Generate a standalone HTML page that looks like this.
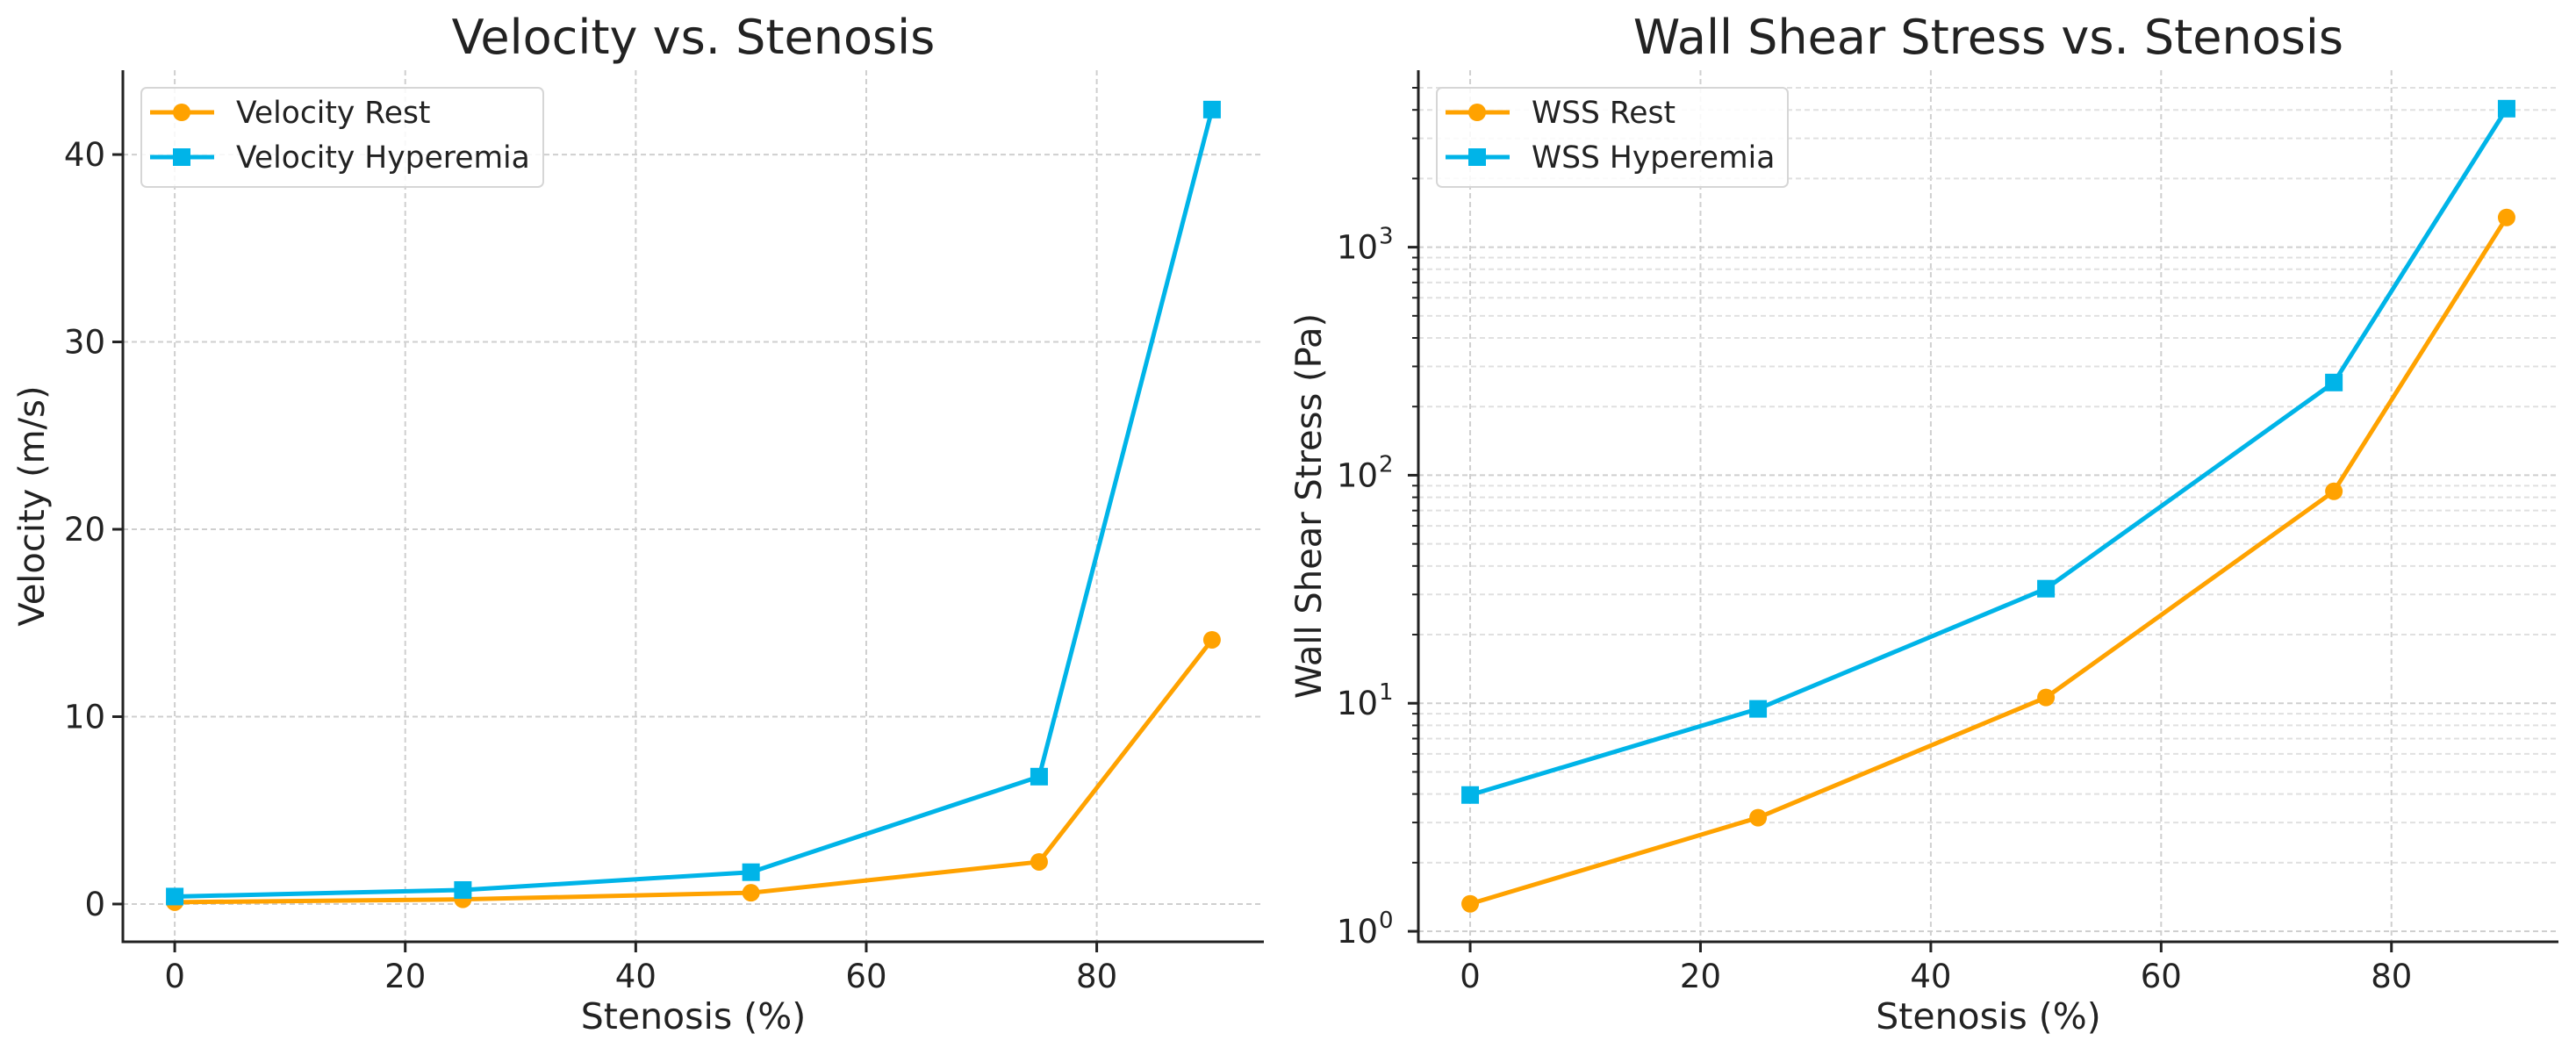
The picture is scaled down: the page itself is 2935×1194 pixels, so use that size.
<!DOCTYPE html>
<html><head><meta charset="utf-8"><style>
html,body{margin:0;padding:0;background:#fff;}
svg{display:block;font-family:"DejaVu Sans","Liberation Sans",sans-serif;}
</style></head><body>
<svg id="fig" width="2935" height="1194" viewBox="0 0 2935 1194" xmlns="http://www.w3.org/2000/svg"></svg>
<script>
const stenosis = [0, 25, 50, 75, 90];
const velRest = [0.1, 0.25, 0.6, 2.25, 14.1];
const velHyper = [0.4, 0.75, 1.7, 6.8, 42.4];
const wssRest = [1.32, 3.15, 10.6, 85, 1350];
const wssHyper = [3.96, 9.45, 31.8, 255, 4050];
const xTicks = [0, 20, 40, 60, 80];
const velTicks = [0, 10, 20, 30, 40];
const logTicks = [0, 1, 2, 3];

const NS = "http://www.w3.org/2000/svg";
const svg = document.getElementById('fig');
const ORANGE = "#ffa200", BLUE = "#00b4e8";
function mk(tag, attrs, parent) {
  const e = document.createElementNS(NS, tag);
  for (const k in attrs) e.setAttribute(k, attrs[k]);
  (parent || svg).appendChild(e);
  return e;
}

function panel(opt) {
  const g = mk('g', {});
  
  
  const L = opt.left, R = opt.right, T = 80, B = 1073;
  const xmin = -4.5, xmax = 94.5;
  const xs = v => L + (v - xmin) / (xmax - xmin) * (R - L);
  const ys = opt.ys(T, B);
  const grid = mk('g', {stroke: "#cfcfcf", "stroke-width": 2, "stroke-dasharray": "6,4", fill: "none"}, g);
  
  
  xTicks.forEach(t => mk('line', {x1: xs(t), x2: xs(t), y1: T, y2: B}, grid));
  opt.gridY(ys).forEach(y => mk('line', {x1: L, x2: R, y1: y.y, y2: y.y, stroke: y.minor ? "#e0e0e0" : "#cfcfcf"}, grid));
  const ax = mk('g', {stroke: "#222", "stroke-width": 3}, g);
  
  
  mk('line', {x1: L, x2: L, y1: T, y2: B + 1.5}, ax);
  mk('line', {x1: L - 1.5, x2: R, y1: B, y2: B}, ax);
  xTicks.forEach(t => {
    mk('line', {x1: xs(t), x2: xs(t), y1: B, y2: B + 12, stroke: "#222", "stroke-width": 3}, g);
    const tx = mk('text', {x: xs(t), y: B + 52, "text-anchor": "middle", "font-size": 37, fill: "#222"}, g);
    tx.textContent = t;
    
    
  });
  opt.yTicks(ys, g, L);
  [[opt.rest, ORANGE, 'circle', opt.restName], [opt.hyper, BLUE, 'square', opt.hyperName]].forEach(([vals, col, mkr, nm]) => {
    const sg = mk('g', {}, g);
    
    
    const pts = stenosis.map((s, i) => xs(s) + ',' + ys(vals[i])).join(' ');
    mk('polyline', {points: pts, fill: "none", stroke: col, "stroke-width": 5, "stroke-linejoin": "round"}, sg);
    stenosis.forEach((s, i) => {
      let m;
      if (mkr === 'circle') m = mk('circle', {cx: xs(s), cy: ys(vals[i]), r: 10, fill: col}, sg);
      else m = mk('rect', {x: xs(s) - 10, y: ys(vals[i]) - 10, width: 20, height: 20, fill: col}, sg);
      
      
    });
  });
  const ti = mk('text', {x: (L + R) / 2, y: 61, "text-anchor": "middle", "font-size": 54, fill: "#222"}, g);
  ti.textContent = opt.title;
  
  
  const xl = mk('text', {x: (L + R) / 2, y: 1172, "text-anchor": "middle", "font-size": 41, fill: "#222"}, g);
  xl.textContent = "Stenosis (%)";
  
  
  const yl = mk('text', {x: 0, y: 0, "text-anchor": "middle", "font-size": 40, fill: "#222", transform: `translate(${opt.ylx},${(T + B) / 2}) rotate(-90)`}, g);
  yl.textContent = opt.ylabel;
  
  
  const lg = mk('g', {}, g);
  
  
  const lx = L + 21;
  mk('rect', {x: lx, y: 100, width: opt.legW, height: 113, rx: 6, fill: "#fff", "fill-opacity": 0.85, stroke: "#d6d6d6", "stroke-width": 2}, lg);
  [[opt.restName, ORANGE, 'circle', 128], [opt.hyperName, BLUE, 'square', 179]].forEach(([nm, col, mkr, y]) => {
    const e = mk('g', {}, lg);
    
    
    mk('line', {x1: lx + 10, x2: lx + 83, y1: y, y2: y, stroke: col, "stroke-width": 5}, e);
    if (mkr === 'circle') mk('circle', {cx: lx + 46, cy: y, r: 10, fill: col}, e);
    else mk('rect', {x: lx + 36, y: y - 10, width: 20, height: 20, fill: col}, e);
    const t = mk('text', {x: lx + 108, y: y + 12, "font-size": 34.5, fill: "#222"}, e);
    t.textContent = nm;
  });
}

panel({
  name: 'velocity-chart', left: 140, right: 1440, title: 'Velocity vs. Stenosis', ylabel: 'Velocity (m/s)', ylx: 50,
  rest: velRest, hyper: velHyper, restName: 'Velocity Rest', hyperName: 'Velocity Hyperemia', legW: 458,
  ys: (T, B) => { const lo = -2.015, hi = 44.5; return v => B - (v - lo) / (hi - lo) * (B - T); },
  gridY: ys => velTicks.map(t => ({y: ys(t)})),
  yTicks: (ys, g, L) => velTicks.forEach(t => {
    mk('line', {x1: L - 12, x2: L, y1: ys(t), y2: ys(t), stroke: "#222", "stroke-width": 3}, g);
    const tx = mk('text', {x: L - 20, y: ys(t) + 13, "text-anchor": "end", "font-size": 37, fill: "#222"}, g);
    tx.textContent = t;
    
    
  })
});

panel({
  name: 'wss-chart', left: 1616, right: 2915, title: 'Wall Shear Stress vs. Stenosis', ylabel: 'Wall Shear Stress (Pa)', ylx: 1505,
  rest: wssRest, hyper: wssHyper, restName: 'WSS Rest', hyperName: 'WSS Hyperemia', legW: 400,
  ys: (T, B) => { const lo = -0.046, hi = 3.776; return v => B - (Math.log10(v) - lo) / (hi - lo) * (B - T); },
  gridY: ys => {
    const out = [];
    for (let d = 0; d <= 3; d++) for (let m = 1; m <= 9; m++) out.push({y: ys(m * Math.pow(10, d)), minor: m !== 1});
    return out.filter(o => o.y >= 80);
  },
  yTicks: (ys, g, L) => {
    for (let d = 0; d <= 3; d++) for (let m = 2; m <= 9; m++) {
      const y = ys(m * Math.pow(10, d));
      if (y >= 80) mk('line', {x1: L - 7, x2: L, y1: y, y2: y, stroke: "#222", "stroke-width": 2}, g);
    }
    logTicks.forEach(p => {
      const y = ys(Math.pow(10, p));
      mk('line', {x1: L - 12, x2: L, y1: y, y2: y, stroke: "#222", "stroke-width": 3}, g);
      const tx = mk('text', {x: L - 46, y: y + 13, "text-anchor": "end", "font-size": 37, fill: "#222"}, g);
      tx.textContent = '10';
      
      
      const sp = mk('text', {x: L - 45, y: y - 4, "text-anchor": "start", "font-size": 26, fill: "#222"}, g);
      sp.textContent = p;
    });
  }
});
</script>
</body></html>
